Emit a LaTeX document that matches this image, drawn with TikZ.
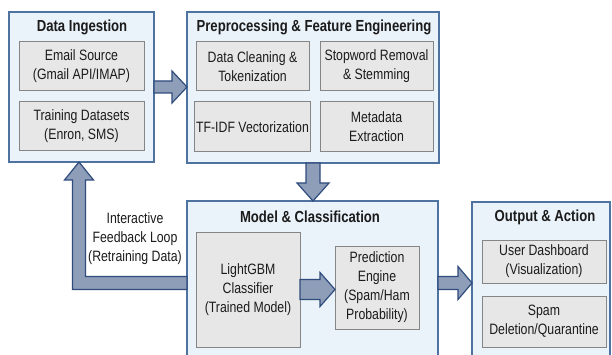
\documentclass[tikz,border=0pt]{standalone}
\usepackage{fontspec}
\setmainfont{Liberation Sans}[FakeStretch=0.82]
\usetikzlibrary{calc}
\definecolor{outerfill}{HTML}{EAF2FA}
\definecolor{outerdraw}{HTML}{4F73A0}
\definecolor{innerfill}{HTML}{E7E7E7}
\definecolor{innerdraw}{HTML}{858585}
\definecolor{arrfill}{HTML}{8E9EB9}
\definecolor{arrdraw}{HTML}{2F4C7C}
\definecolor{txt}{HTML}{1B1B1B}
\newcommand{\HArr}[5]{%
 \draw[fatarrow] let \p1=(#1), \p2=(#2) in (\x1,\y1+#3) -- (\x2-#5,\y1+#3) -- (\x2-#5,\y1+#4) -- (\x2,\y1) -- (\x2-#5,\y1-#4) -- (\x2-#5,\y1-#3) -- (\x1,\y1-#3) -- cycle;}
\newcommand{\VArr}[5]{%
 \draw[fatarrow] let \p1=(#1), \p2=(#2) in (\x1-#3,\y1) -- (\x1-#3,\y2+#5) -- (\x1-#4,\y2+#5) -- (\x1,\y2) -- (\x1+#4,\y2+#5) -- (\x1+#3,\y2+#5) -- (\x1+#3,\y1) -- cycle;}
\tikzset{
 outerbox/.style={draw=outerdraw, fill=outerfill, line width=1.3pt, outer sep=0pt, inner sep=0pt},
 innerbox/.style={draw=innerdraw, fill=innerfill, line width=1pt, outer sep=0pt, inner sep=2pt, align=center, text=txt, font=\fontsize{15}{19}\selectfont},
 titletext/.style={text=txt, font=\bfseries\fontsize{16}{19}\selectfont, inner sep=0pt},
 labeltext/.style={text=txt, align=center, font=\fontsize{15}{19}\selectfont, inner sep=0pt},
 fatarrow/.style={fill=arrfill, draw=arrdraw, line width=1.2pt, line join=miter}
}
\begin{document}
\begin{tikzpicture}[x=1pt,y=-1pt]
\useasboundingbox (0,0) rectangle (612,355);
\fill[white] (0,0) rectangle (612,355);
% outer boxes
\node[outerbox, minimum width=145, minimum height=150] (di) at (81.5,87) {};
\node[outerbox, minimum width=252, minimum height=151] (prep) at (313,87.5) {};
\node[outerbox, minimum width=251, minimum height=164] (model) at (312.5,283) {};
\node[outerbox, minimum width=138, minimum height=163] (out) at (541,283.5) {};
% titles
\node[titletext] (diT) at (82,27) {Data Ingestion};
\node[titletext] (prepT) at (314,27) {Preprocessing \& Feature Engineering};
\node[titletext] (modelT) at (310,217) {Model \& Classification};
\node[titletext] (outT) at (545,217) {Output \& Action};
% inner boxes
\node[innerbox, minimum width=125, minimum height=49] (email) at (81.5,66.5) {Email Source\\(Gmail API/IMAP)};
\node[innerbox, minimum width=125, minimum height=49] (train) at (81.5,126.5) {Training Datasets\\(Enron, SMS)};
\node[innerbox, minimum width=113, minimum height=49] (clean) at (252.5,66.5) {Data Cleaning \&\\Tokenization};
\node[innerbox, minimum width=113, minimum height=49] (stop) at (376.5,66.5) {Stopword Removal\\\& Stemming};
\node[innerbox, minimum width=113, minimum height=50] (tfidf) at (252.5,127) {TF-IDF Vectorization};
\node[innerbox, minimum width=113, minimum height=50] (meta) at (376.5,127) {Metadata\\Extraction};
\node[innerbox, minimum width=104, minimum height=115] (lgbm) at (248,289.5) {LightGBM\\Classifier\\(Trained Model)};
\node[innerbox, minimum width=84, minimum height=83] (pred) at (377,287.5) {Prediction\\Engine\\(Spam/Ham\\Probability)};
\node[innerbox, minimum width=124, minimum height=43] (dash) at (544,261.5) {User Dashboard\\(Visualization)};
\node[innerbox, minimum width=124, minimum height=51] (spam) at (544,321.5) {Spam\\Deletion/Quarantine};
% label
\node[labeltext] (fbl) at (135,239) {Interactive\\Feedback Loop\\(Retraining Data)};
% arrows
\HArr{di.east}{prep.west}{6pt}{16pt}{15pt}
\VArr{prep.south}{model.north}{7pt}{16pt}{18pt}
\HArr{lgbm.east}{pred.west}{10pt}{17pt}{15pt}
\HArr{model.east}{out.west}{6.5pt}{16.5pt}{14pt}
\coordinate (fbtip) at ($(di.south)+(-2.5,0)$);
\draw[fatarrow] let \p1=(model.west), \p2=(fbtip) in (\x1,\y1+6.5pt) -- (\x2+6.5pt,\y1+6.5pt) -- (\x2+6.5pt,\y2-18pt) -- (\x2+14.5pt,\y2-18pt) -- (\x2,\y2) -- (\x2-14.5pt,\y2-18pt) -- (\x2-6.5pt,\y2-18pt) -- (\x2-6.5pt,\y1-6.5pt) -- (\x1,\y1-6.5pt) -- cycle;
\end{tikzpicture}
\end{document}
